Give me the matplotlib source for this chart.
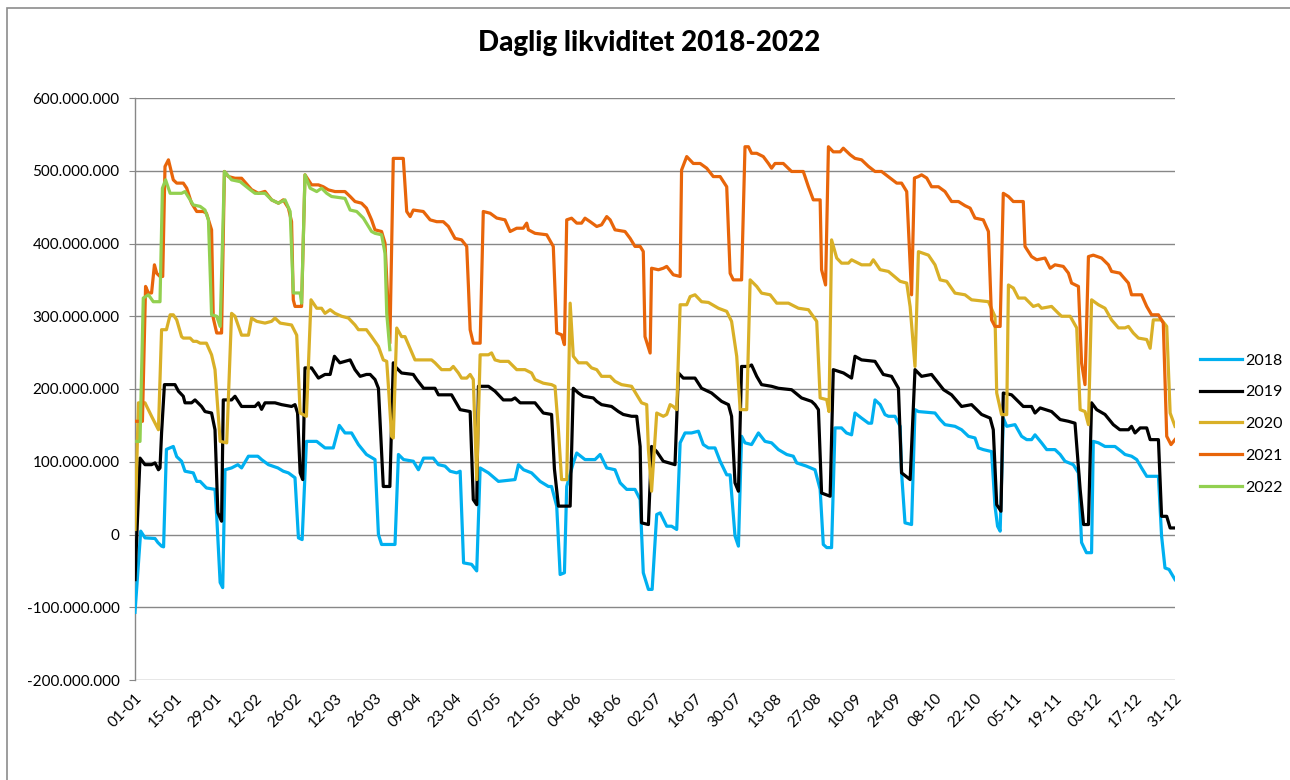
"""Daglig likviditet 2018-2022: daily liquidity per year, Excel-style line chart."""

import matplotlib
matplotlib.use("Agg")
import matplotlib.pyplot as plt
import matplotlib.patches as mpatches
from matplotlib.ticker import FuncFormatter

# x = day of year (0 = 01-01), y = liquidity in millions
days_2018 = [0, 2, 3.5, 7, 8, 9.3, 10, 11, 13.4, 14.6, 16.3, 17.5, 20.4, 21.6, 22.8, 25, 28, 28.6,
             29.8, 30.7, 31.5, 33.8, 36, 37.3, 39.7, 43, 44.3, 46.7, 50, 51.9, 53.7, 56, 57.2, 58.5,
             60, 63.6, 66.5, 69.4, 71.5, 73.5, 75.8, 78.2, 81, 84, 85.2, 86.3, 91, 92.2, 94, 97.4,
             99.2, 101, 104.4, 106.2, 108.5, 110.3, 112.6, 113.8, 115, 117.8, 119.6, 120.8, 123.7,
             127.2, 133, 134.2, 136, 138.8, 141.8, 144.7, 145.8, 147.6, 148.8, 150.3, 151.1, 153.4,
             154.6, 157.5, 161, 162.8, 165.1, 168, 169.8, 172.1, 175, 176.8, 177.9, 179.7, 181,
             182.6, 183.8, 186.1, 187.8, 189.6, 190.8, 192.5, 194.8, 197.2, 198.9, 200.7, 203,
             204.8, 207.1, 208.3, 210, 211.2, 212.3, 213.5, 215.8, 218.2, 220.5, 222.8, 225.2,
             228.1, 230.4, 231.6, 235, 238, 239.8, 240.9, 242.1, 243.8, 245, 247.3, 249, 250.8,
             252, 254.3, 256.7, 257.8, 259, 260.8, 262.5, 263.7, 266, 267.8, 268.3, 269.5, 271.8,
             273, 274.2, 280, 281.8, 283.5, 287, 289.3, 291.7, 294, 295.2, 296.9, 299.8, 301,
             301.9, 302.8, 303.9, 305.1, 308, 310.3, 312.1, 313.8, 315, 317.3, 319.1, 322, 323.8,
             325.5, 328.4, 330.2, 331.3, 333, 334.8, 335.4, 337.2, 339.5, 343, 345.3, 346.5, 348.8,
             350.6, 352.3, 354.1, 358.2, 359.3, 360.5, 361.9, 364]
vals_2018 = [-107, 4.6, -4.6, -5.5, -11, -16, -17, 117, 121, 107, 100.7, 87, 84.7, 73, 73, 64, 62, 25,
             -66, -73, 89, 91.5, 96, 91.5, 107.6, 107.6, 103, 96, 91.5, 87, 84.7, 78, -4.6, -7,
             128, 128, 119, 119, 150, 139.6, 139.6, 123.6, 110, 103, 0, -13.7, -13.7, 110, 103, 100.7,
             89, 105, 105, 96, 94, 87, 84.7, 87, -39, -41, -50, 91.5, 84.7,
             73, 75.5, 96, 89, 84.7, 73, 66, 66, 39, -55, -52.6, 66, 98.4,
             112, 103, 103, 110, 91.5, 89, 71, 62, 62, 48, -52.6, -75.5, -75.5,
             27.5, 29.7, 11.4, 11.4, 6.9, 126, 139.6, 139.6, 142, 123.6, 119, 119,
             100.7, 82, 82, -2, -16, 135, 126, 123.6, 139.6, 128, 126, 116.7,
             110, 107.6, 98.4, 94, 89, 62, -13.7, -18, -18, 146.5, 146.5, 139.6, 137,
             167, 160, 153, 153, 185, 178.5, 164.8, 162.5, 162.5, 148.7, 84.7, 16, 13.7,
             171.6, 169, 167, 158, 151, 148.7, 144, 135, 132.7, 119, 116.7, 114, 39,
             11.4, 4.6, 160, 148.7, 151, 135, 130.4, 130.4, 137, 126, 116.7, 116.7, 110,
             100.7, 96, 84.7, -11, -25, -25, 128, 126, 121, 121, 114, 110, 107.6,
             103, 91.5, 80, 80, -2, -46, -48, -62]

days_2019 = [0, 1.75, 3.5, 5.8, 7, 8.2, 8.75, 9.3, 10.3, 14, 15.2, 16.9, 17.5, 19.8, 21, 23.3, 24.5,
             26.8, 28, 29, 30.3, 30.9, 33.8, 35, 37.3, 42, 43.2, 44.3, 45.5, 49, 51.3, 54.8, 56,
             56.9, 57.8, 58.7, 59.5, 61.8, 64.2, 66.5, 68.3, 69.8, 71.7, 73.5, 75.3, 77, 78.8, 81,
             82.3, 84, 85.2, 86.9, 89.2, 90.4, 91, 93.3, 97.4, 98.6, 101, 105, 106.2, 110.8, 113.8,
             117.3, 118.4, 119.6, 120.2, 123.7, 126, 128.9, 131.8, 133, 134.8, 140, 142.9, 145.8,
             146.8, 148.2, 152.3, 153.4, 155.2, 156.9, 160.4, 161.6, 163.3, 166.8, 169.2, 170.9,
             173.8, 175.6, 176.8, 177.3, 179.7, 180.8, 182.6, 184.9, 189, 190.2, 191.9, 196, 198.3,
             201.8, 205.3, 207.7, 208.8, 210, 211.2, 212.3, 214.7, 215.8, 217.6, 219.3, 222.8,
             225.2, 229.8, 233.3, 236.8, 238, 239.2, 240.3, 243.3, 244.4, 248, 250.8, 252, 254.3,
             259, 261.9, 264.8, 267.2, 268.3, 271.3, 273, 275.3, 278.8, 283, 285.8, 289.3, 292.8,
             296.3, 299.3, 300.4, 301.6, 303.1, 303.9, 306.8, 310.9, 313.8, 315, 316.8, 320.8,
             323.8, 326.7, 329, 330.8, 332, 333.7, 334.8, 336.6, 339.5, 342.4, 344.7, 347.7, 348.8,
             350, 351.8, 354.1, 355.3, 358.2, 359.3, 361.1, 362.3, 364]
vals_2019 = [-62, 105, 96, 96, 98.4, 89, 91.5, 139.6, 206, 206, 197, 190, 181, 181, 185, 176, 169,
             167, 144, 30, 18.3, 185, 185, 190, 176, 176, 181, 172, 181, 181, 178.5, 176, 178.5,
             167, 84.7, 75.5, 229, 229, 215, 220, 220, 245, 236, 238, 240, 226.6, 217.4, 220,
             220, 213, 201, 66, 66, 236, 231, 222, 220, 213, 201, 201, 192, 192, 171.6,
             169, 48, 41, 203.7, 203.7, 197, 185, 185, 187.7, 181, 181, 167, 165,
             90, 39, 39, 201, 194.5, 190, 187.7, 183, 178.5, 176, 169, 165,
             162.5, 162.5, 121, 16, 13.7, 121, 114, 100.7, 96, 222, 215, 215, 201,
             194.5, 183, 178.5, 162.5, 71, 59.5, 231, 231, 233, 217.4, 206, 203.7,
             201, 199, 187.7, 183, 178.5, 171.6, 57, 52.6, 226.6, 222, 215, 245, 240,
             238, 220, 217.4, 201, 84.7, 75.5, 226.6, 217.4, 220, 199, 192, 176, 178.5,
             165, 160, 144, 41, 32, 194.5, 192, 176, 176, 167, 174, 169,
             158, 155.6, 153, 62, 13.7, 13.7, 181, 171.6, 165, 151, 144, 144, 148.7,
             139.6, 146.5, 146.5, 130.4, 130.4, 25, 25, 9, 9]

days_2020 = [0, 1.2, 3.5, 5.8, 8.2, 9.3, 11, 12.3, 13.4, 14.6, 16.3, 16.9, 19.3, 20.4, 21.6, 22.8, 25,
             26.8, 28, 29.8, 32.1, 33.8, 35, 37.3, 39.7, 40.8, 42.6, 45.5, 47.8, 49, 50.8, 54.8,
             56.6, 57.8, 60, 61.6, 63.6, 65.3, 66.5, 68.3, 70, 72.3, 74.7, 77, 78.2, 81, 82.8,
             85.2, 86.9, 88.1, 88.7, 89.8, 90.4, 91.6, 93.3, 94.5, 95.7, 98, 103.8, 105, 107.3,
             110.3, 111.4, 113.2, 114.3, 116.1, 117.3, 118.4, 119.6, 120.8, 123.7, 124.8, 126,
             127.8, 130.7, 133.6, 136.5, 138.8, 140, 142.9, 145.8, 147, 148.2, 149.3, 151.1, 152.3,
             153.4, 155.2, 158.1, 159.8, 161.6, 163.3, 166.3, 168, 170.3, 173.8, 175.6, 177.3,
             179.1, 179.7, 180.8, 182.6, 184.9, 186.1, 187.3, 188.4, 189.6, 190.8, 193.1, 194.3,
             196, 198.3, 200.7, 204.2, 207.1, 208.8, 210.6, 211.8, 214.1, 215.3, 217.6, 219.3,
             222.3, 224.6, 228.7, 232.2, 235.7, 238.6, 239.8, 242.1, 242.9, 243.8, 245.6, 247.3,
             249.7, 250.8, 254.3, 257.3, 258.4, 260.8, 263.7, 267.8, 270.1, 271.3, 273, 274.2,
             277.7, 280, 281.8, 284.1, 287, 290.5, 292.8, 298.7, 301, 301.6, 303.3, 305.1, 305.7,
             307.4, 309.2, 311.5, 314.4, 316.2, 317.3, 320.8, 323.2, 324.3, 327.3, 329.6, 330.8,
             332.5, 333.7, 334.8, 337.2, 339.5, 341.8, 344.2, 346.5, 347.7, 349.4, 351.2, 354.1,
             355.3, 356.4, 359.3, 361.1, 362.3, 364]
vals_2020 = [7, 181, 181, 162.5, 144, 281.5, 281.5, 302, 302, 295, 272, 270, 270, 265.5, 265.5, 263, 263,
             247, 226.6, 128, 126, 304, 300, 274, 274, 297.5, 293, 290.6, 293, 297.5, 290.6, 288,
             274, 167, 162.5, 322.6, 311, 311, 304, 309, 304, 300, 297.5, 288, 281.5, 281.5, 272,
             258.5, 240, 238, 203.7, 135, 132.7, 283.8, 272, 272, 261, 240, 240, 236, 226.6,
             226.6, 231, 222, 215, 215, 220, 213, 75.5, 247, 247, 249.6, 240,
             238, 238, 226.6, 226.6, 222, 213, 208, 206, 203.7, 144, 75.5, 75.5, 318,
             245, 236, 236, 229, 226.6, 217.4, 217.4, 210.5, 206, 203.7, 192, 181,
             178.5, 116.7, 59.5, 167, 162.5, 165, 178.5, 176, 171.6, 315.8, 315.8, 327,
             329.5, 320, 319, 311, 306.7, 293, 245, 171.6, 171.6, 350, 341, 331.8,
             329.5, 318, 318, 311, 309, 293, 187.7, 185.4, 169, 405, 380, 373,
             373, 377.6, 370.7, 370.7, 377.6, 364, 361.6, 348, 345.6, 313, 231, 388.8,
             384, 370.7, 350, 348, 331.8, 329.5, 322.6, 320, 299.6, 194.5, 164.8, 164.8, 343,
             338.8, 325, 325, 313.5, 315.8, 311, 313.5, 304, 300, 300, 284, 171.6,
             169, 151, 322.6, 315.8, 311, 295, 284, 284, 286, 277, 270, 268,
             256, 295, 295, 286, 167, 148.7]

days_2021 = [0, 2.6, 3.7, 4.7, 5.8, 6.8, 7.6, 8.75, 9.7, 10.5, 11.7, 13.4, 14.6, 16.9, 18.1, 19.8,
             21.6, 23.9, 25, 26.8, 27.4, 28.6, 30.3, 31.3, 32.7, 35, 37.3, 40.8, 43.2, 45.5, 47.8,
             50.2, 51.9, 53.7, 54.8, 55.4, 56, 58.3, 59.5, 61.8, 64.2, 65.9, 67.7, 70, 73.5, 75.3,
             77, 79.3, 81, 82.8, 84, 86.3, 87.5, 89.2, 90.4, 93.9, 95.1, 96.3, 97.4, 100.9, 103.3,
             105.6, 107.9, 109.7, 112, 114.3, 116.1, 116.7, 117.3, 118.4, 120.8, 121.9, 124.3,
             126.6, 129.5, 131.3, 133.6, 135.9, 137.1, 137.7, 140, 144.1, 146.4, 147.6, 149.3,
             150.3, 151.1, 152.8, 154.6, 156.3, 157.5, 159.3, 161.6, 163.3, 165.1, 166.3, 168,
             171.5, 173.3, 175, 176.8, 177.9, 178.5, 180.3, 180.8, 183.2, 184.9, 186.1, 188.4,
             190.8, 191.3, 193.1, 195.4, 197.8, 200.1, 202.4, 204.8, 207.1, 208.3, 209.4, 212.3,
             213.5, 214.7, 215.8, 217.6, 219.9, 221.7, 222.8, 224, 226.9, 229.8, 233.9, 235.7,
             237.4, 239.8, 240.3, 241.7, 242.7, 244.4, 246.8, 247.9, 250.3, 252, 254.3, 256.7,
             259, 261.3, 264.3, 266.6, 268.3, 270.1, 271.8, 272.8, 274.2, 275.3, 277.1, 278.8,
             281.2, 283.5, 285.8, 288.2, 290.5, 292.3, 294, 296.9, 298.7, 299.8, 301, 302.8, 303.9,
             305.7, 307.4, 310.9, 311.5, 313.8, 315.6, 318.5, 320.3, 322, 324.9, 326.7, 327.8,
             330.2, 331.3, 332.5, 333.7, 335.4, 338.3, 340.7, 341.8, 344.7, 347.7, 348.8, 352.3,
             354.1, 355.8, 358.2, 359.9, 361.1, 362.6, 364]
vals_2021 = [155.6, 155.6, 341, 332, 332, 370.7, 359, 354.7, 354.7, 505.8, 515, 487.5, 483, 483, 476, 455.4,
             444, 444, 441.6, 418.8, 297.5, 277, 277, 499, 492, 489.7, 489.7, 474, 469, 471.6, 460,
             455.4, 460, 448.6, 430, 322.6, 313.5, 313.5, 494.4, 480.6, 480.6, 478, 473.7, 471.4, 471.4, 464.6,
             457.7, 455.4, 448.6, 432.5, 418.8, 416.5, 400.5, 263, 517, 517, 444, 437, 446, 444, 432.5,
             430, 430, 423.4, 407, 405, 396, 341, 281.5, 263, 263, 444, 441.6,
             435, 432.5, 416.5, 421, 421, 428, 418.8, 414, 412, 396, 277, 274.6,
             261, 432.5, 434.8, 428, 428, 434.8, 430, 423.4, 425.7, 437, 432.5, 418.8,
             416.5, 407, 396, 396, 389, 272, 249.4, 366, 363.9, 366, 368.5, 357,
             354.7, 501, 519.5, 510, 510, 503.5, 492, 492, 478, 359, 350, 350,
             533, 533, 524, 524, 519.5, 510, 503.5, 510, 510, 499, 499, 478,
             460, 460, 363.9, 343, 533, 526, 526, 531, 522, 517, 515, 506,
             499, 499, 490, 483, 483, 471.4, 329.5, 490, 492, 494.4, 490, 478,
             478, 471.4, 457.7, 457.7, 452, 448.6, 435, 432.5, 416.5, 295, 286, 286, 469,
             464.6, 457.7, 457.7, 396, 382, 377.6, 380, 366, 370.7, 368.5, 359.3, 345.6,
             341, 235.8, 206, 382, 384, 380, 370.7, 361.6, 359.3, 345.6, 329.5, 329.5,
             313.5, 302, 302, 290.6, 135, 123.6, 130.4]

days_2022 = [0, 1.75, 2.9, 4.7, 6.4, 8.75, 9.6, 10.7, 12.3, 16.3, 17.5, 19.3, 20.4, 22.8, 24.5, 25.7,
             26.8, 28.6, 29.8, 31.3, 33.8, 36.8, 40.3, 42, 45.5, 47.8, 50.2, 52.5, 54.3, 55.4, 57.8,
             58.3, 59.5, 61.3, 63.6, 65.3, 67.1, 68.8, 73.5, 75.3, 77.6, 79.9, 82.8, 84, 86.3, 87.5,
             88.1, 89.2]
vals_2022 = [128, 128, 325, 329.5, 320, 320, 476, 487.5, 469, 469, 471.4, 460, 453, 451, 446, 432.5,
             302, 300, 286, 499, 487.5, 485, 474, 469, 469, 460, 455.4, 460, 444, 332, 332,
             318, 494.4, 476, 471.4, 476, 469, 464.6, 462, 446, 444, 435, 416.5, 414, 412, 386.7,
             304, 254]

series_labels = ["2018", "2019", "2020", "2021", "2022"]
series_days = [days_2018, days_2019, days_2020, days_2021, days_2022]
series_vals = [vals_2018, vals_2019, vals_2020, vals_2021, vals_2022]
series_colours = ["#00B0F0", "#000000", "#D9B027", "#E8650A", "#92D050"]

tick_days = list(range(0, 365, 14))
tick_labels = ["01-01", "15-01", "29-01", "12-02", "26-02", "12-03", "26-03", "09-04", "23-04",
               "07-05", "21-05", "04-06", "18-06", "02-07", "16-07", "30-07", "13-08", "27-08",
               "10-09", "24-09", "08-10", "22-10", "05-11", "19-11", "03-12", "17-12", "31-12"]

GRID = "#878787"
plt.rcParams["font.family"] = ["Lato", "DejaVu Sans"]

fig = plt.figure(figsize=(12.9, 7.8), dpi=100)
ax = fig.add_axes([135 / 1290, 1 - 680 / 780, 1040 / 1290, 582 / 780])

for label, d, v, c in zip(series_labels, series_days, series_vals, series_colours):
    ax.plot(d, [x * 1e6 for x in v], color=c, lw=2.3, label=label,
            solid_joinstyle="round", zorder=3)

ax.set_xlim(0, 364)
ax.set_ylim(-200e6, 600e6)
ax.set_yticks([i * 100e6 for i in range(-2, 7)])


def fmt(y, _):
    if abs(y) < 1:
        return "0"
    return f"{y:,.0f}".replace(",", ".")


ax.yaxis.set_major_formatter(FuncFormatter(fmt))
ax.grid(axis="y", color=GRID, lw=1.0, zorder=1)
ax.set_axisbelow(True)
for side in ("top", "right", "bottom"):
    ax.spines[side].set_visible(False)
ax.spines["left"].set_color(GRID)
ax.spines["left"].set_linewidth(1.0)
ax.tick_params(axis="y", length=4, color=GRID, labelsize=11, pad=7)

ax.set_xticks(tick_days)
ax.set_xticklabels(tick_labels, rotation=45, ha="right", va="top",
                   rotation_mode="anchor", fontsize=11)
ax.tick_params(axis="x", length=0, pad=8)

fig.text(0.503, 1 - 43 / 780, "Daglig likviditet 2018-2022", ha="center", va="center",
         fontsize=20, fontweight="black")

ax.legend(loc="center left", bbox_to_anchor=(1200 / 1290, 1 - 424 / 780), frameon=False,
          fontsize=11.5, handlelength=2.6, handletextpad=0.2, labelspacing=1.1,
          borderpad=0, borderaxespad=0, bbox_transform=fig.transFigure)

# outer chart frame (Excel chart area border)
fig.patches.append(mpatches.Rectangle((7 / 1290, -0.2), 2.0, 1.2 - 8 / 780,
                                      transform=fig.transFigure, fill=False,
                                      edgecolor="#8C8C8C", lw=1.2))

fig.savefig("out.png", dpi=100)
